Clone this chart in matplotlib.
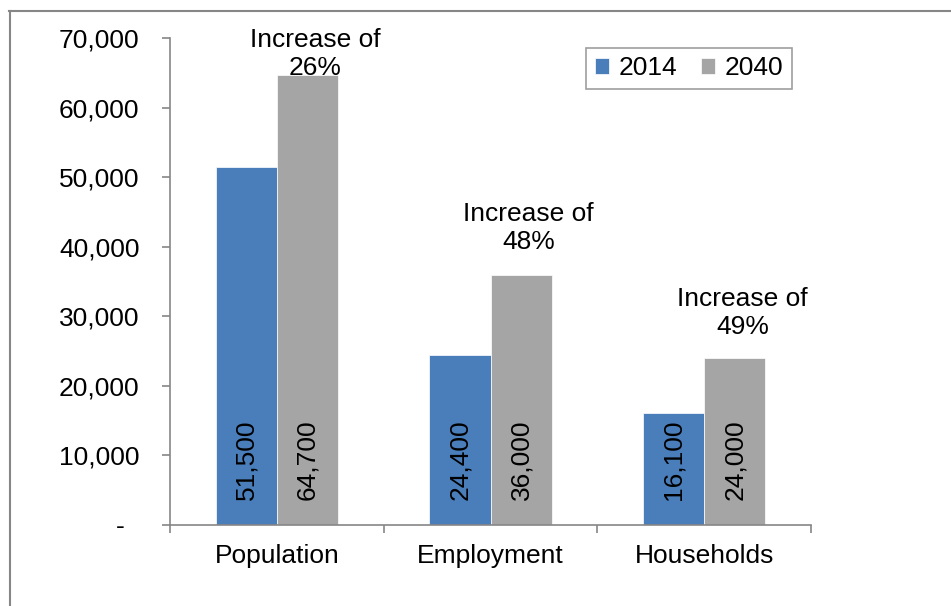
import numpy as np
import matplotlib
matplotlib.use('Agg')
import matplotlib.pyplot as plt
from matplotlib.lines import Line2D
from matplotlib.ticker import FuncFormatter

plt.rcParams['font.family'] = ['Liberation Sans', 'DejaVu Sans']

categories = ['Population', 'Employment', 'Households']
years = ['2014', '2040']
vals_2014 = [51500, 24400, 16100]
vals_2040 = [64700, 36000, 24000]
increase = ['26%', '48%', '49%']
# vertical gap (points) between each note's baseline and its bar top, as placed in the original
note_dy = [0, 18.5, 17.5]

c_2014 = '#4A7EBB'
c_2040 = '#A5A5A5'
axis_grey = '#868686'
fs = 19

fig = plt.figure(figsize=(9.51, 6.06), dpi=100)
ax = fig.add_axes([170 / 951, 1 - 525 / 606, (811 - 170) / 951, (525 - 38) / 606])

x = np.arange(len(categories))
w = 0.2864
b1 = ax.bar(x - w / 2, vals_2014, w, color=c_2014, edgecolor='white', linewidth=0.5, label=years[0])
b2 = ax.bar(x + w / 2, vals_2040, w, color=c_2040, edgecolor='white', linewidth=0.5, label=years[1])

# value labels inside the bars, at the base, rotated
for bars in (b1, b2):
    for r in bars:
        ax.annotate(f'{int(r.get_height()):,}', xy=(r.get_x() + r.get_width() / 2, 0),
                    xytext=(0, 18), textcoords='offset points', rotation=90,
                    ha='center', va='bottom', fontsize=fs)

# "Increase of" notes above the 2040 bars
for r, pct, dy in zip(b2, increase, note_dy):
    ax.annotate(f'Increase of\n{pct}', xy=(r.get_x() + r.get_width() / 2, r.get_height()),
                xytext=(5.5, dy), textcoords='offset points', ha='center', va='baseline',
                fontsize=fs, linespacing=1.2)

ax.set_xlim(-0.5, 2.5)
ax.set_ylim(0, 70000)
ax.set_yticks(np.arange(0, 70001, 10000))
ax.yaxis.set_major_formatter(FuncFormatter(lambda v, p: '-\u2007' if v == 0 else f'{int(v):,}'))
ax.set_xticks(x)
ax.set_xticklabels(categories)
ax.set_xticks(np.arange(-0.5, 2.6, 1), minor=True)

ax.tick_params(axis='y', direction='out', length=6, width=1.2, color=axis_grey, pad=16, labelsize=fs)
ax.tick_params(axis='x', which='major', length=0, pad=14, labelsize=fs)
ax.tick_params(axis='x', which='minor', direction='out', length=6, width=1.2, color=axis_grey)

for s in ('top', 'right'):
    ax.spines[s].set_visible(False)
for s in ('left', 'bottom'):
    ax.spines[s].set_color(axis_grey)
    ax.spines[s].set_linewidth(1.2)

leg = ax.legend(ncol=2, loc='upper right', bbox_to_anchor=(0.970, 0.9795), borderaxespad=0,
                fontsize=fs, handlelength=0.55, handleheight=0.55, handletextpad=0.35,
                columnspacing=0.9, borderpad=0.32, fancybox=False, frameon=True)
leg.get_frame().set_edgecolor(axis_grey)
leg.get_frame().set_linewidth(1.2)

# chart-area border (cropped at right and bottom in the original)
fig.add_artist(Line2D([9 / 951, 1], [1 - 10.5 / 606] * 2, color=axis_grey, lw=1.5))
fig.add_artist(Line2D([9.5 / 951] * 2, [0, 1 - 10.5 / 606], color=axis_grey, lw=1.5))

fig.savefig('out.png', dpi=100)
